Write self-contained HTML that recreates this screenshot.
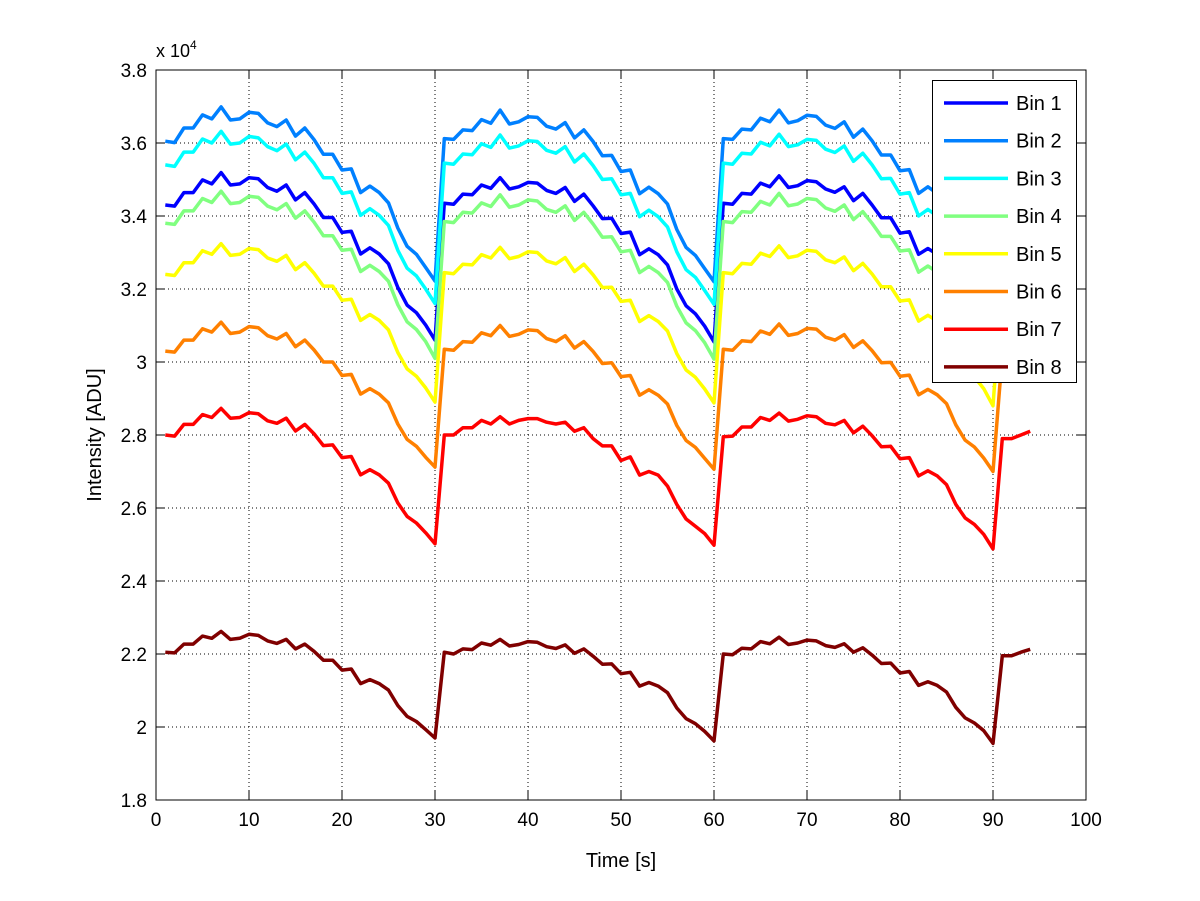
<!DOCTYPE html>
<html><head><meta charset="utf-8"><style>
html,body{margin:0;padding:0;background:#fff;}
svg{display:block;font-family:"Liberation Sans",sans-serif;}
</style></head><body>
<svg id="chart" width="1200" height="901" viewBox="0 0 1200 901"></svg>
<script>
const times = [];
for (let i = 1; i <= 94; i++) times.push(i);
const xTicks = [0,10,20,30,40,50,60,70,80,90,100];
const yTicks = [1.8,2,2.2,2.4,2.6,2.8,3,3.2,3.4,3.6,3.8];
const yTickLabels = ["1.8","2","2.2","2.4","2.6","2.8","3","3.2","3.4","3.6","3.8"];
const seriesNames = ["Bin 1","Bin 2","Bin 3","Bin 4","Bin 5","Bin 6","Bin 7","Bin 8"];
const seriesColors = ["#0000ff","#0080ff","#00ffff","#80ff80","#ffff00","#ff8000","#ff0000","#800000"];
const bin1 = [3.430,3.427,3.464,3.464,3.499,3.488,3.519,3.485,3.488,3.505,3.502,3.478,3.468,3.485,3.444,3.464,3.433,3.396,3.396,3.355,3.358,3.296,3.313,3.296,3.269,3.204,3.156,3.135,3.101,3.060,
3.435,3.432,3.460,3.458,3.485,3.476,3.505,3.474,3.480,3.492,3.490,3.470,3.462,3.478,3.440,3.460,3.428,3.393,3.394,3.352,3.356,3.294,3.310,3.294,3.266,3.200,3.154,3.132,3.098,3.055,
3.435,3.432,3.462,3.460,3.490,3.480,3.510,3.478,3.483,3.497,3.494,3.474,3.465,3.480,3.442,3.462,3.430,3.395,3.395,3.353,3.357,3.295,3.311,3.295,3.267,3.202,3.155,3.133,3.099,3.055,
3.420,3.420,3.430,3.440];
const bin2 = [3.605,3.601,3.641,3.641,3.677,3.666,3.699,3.663,3.666,3.684,3.681,3.655,3.645,3.663,3.619,3.641,3.609,3.569,3.569,3.526,3.529,3.464,3.482,3.464,3.436,3.367,3.317,3.295,3.259,3.222,
3.612,3.610,3.636,3.634,3.664,3.654,3.690,3.652,3.658,3.672,3.670,3.646,3.638,3.656,3.614,3.636,3.604,3.565,3.566,3.522,3.526,3.461,3.479,3.461,3.433,3.363,3.314,3.292,3.256,3.220,
3.612,3.610,3.638,3.636,3.668,3.658,3.690,3.655,3.661,3.676,3.673,3.649,3.640,3.658,3.616,3.638,3.606,3.567,3.567,3.524,3.527,3.462,3.480,3.462,3.434,3.365,3.315,3.293,3.257,3.220,
3.600,3.600,3.605,3.620];
const bin3 = [3.540,3.536,3.575,3.575,3.611,3.600,3.632,3.597,3.600,3.618,3.614,3.590,3.579,3.597,3.554,3.575,3.544,3.505,3.505,3.462,3.466,3.402,3.420,3.402,3.374,3.306,3.257,3.236,3.200,3.160,
3.545,3.542,3.570,3.568,3.598,3.588,3.622,3.586,3.592,3.606,3.604,3.580,3.572,3.590,3.548,3.570,3.538,3.500,3.502,3.458,3.462,3.398,3.416,3.398,3.370,3.302,3.253,3.232,3.196,3.158,
3.545,3.542,3.572,3.570,3.602,3.592,3.624,3.590,3.595,3.610,3.607,3.583,3.574,3.592,3.550,3.572,3.540,3.502,3.503,3.460,3.464,3.400,3.418,3.400,3.372,3.304,3.255,3.234,3.198,3.158,
3.530,3.530,3.540,3.550];
const bin4 = [3.380,3.377,3.414,3.414,3.448,3.437,3.468,3.434,3.437,3.454,3.451,3.427,3.417,3.434,3.394,3.414,3.383,3.346,3.346,3.306,3.309,3.248,3.265,3.248,3.221,3.157,3.110,3.089,3.056,3.010,
3.385,3.382,3.410,3.408,3.436,3.426,3.458,3.424,3.430,3.444,3.441,3.418,3.410,3.428,3.388,3.410,3.378,3.342,3.343,3.302,3.306,3.245,3.262,3.245,3.218,3.153,3.107,3.086,3.053,3.008,
3.385,3.382,3.412,3.410,3.440,3.430,3.462,3.428,3.433,3.448,3.445,3.422,3.413,3.430,3.390,3.412,3.380,3.344,3.344,3.304,3.307,3.246,3.263,3.246,3.219,3.155,3.108,3.087,3.054,3.008,
3.370,3.370,3.380,3.390];
const bin5 = [3.240,3.237,3.272,3.272,3.305,3.295,3.324,3.292,3.295,3.311,3.308,3.285,3.276,3.292,3.253,3.272,3.243,3.208,3.208,3.169,3.172,3.114,3.130,3.114,3.088,3.026,2.981,2.961,2.929,2.890,
3.245,3.242,3.268,3.266,3.294,3.285,3.314,3.283,3.289,3.302,3.300,3.277,3.269,3.286,3.248,3.268,3.239,3.204,3.205,3.166,3.169,3.111,3.127,3.111,3.085,3.023,2.978,2.958,2.926,2.888,
3.245,3.242,3.270,3.268,3.298,3.289,3.318,3.286,3.291,3.306,3.303,3.280,3.272,3.288,3.250,3.270,3.241,3.206,3.206,3.167,3.170,3.112,3.128,3.112,3.086,3.024,2.979,2.959,2.927,2.880,
3.230,3.230,3.240,3.250];
const bin6 = [3.030,3.027,3.060,3.060,3.091,3.082,3.109,3.078,3.082,3.097,3.094,3.072,3.063,3.078,3.042,3.060,3.033,3.000,3.000,2.963,2.966,2.912,2.927,2.912,2.888,2.830,2.788,2.769,2.739,2.712,
3.035,3.032,3.056,3.054,3.080,3.072,3.100,3.070,3.076,3.088,3.086,3.064,3.056,3.072,3.038,3.056,3.029,2.996,2.998,2.960,2.963,2.909,2.924,2.909,2.885,2.826,2.785,2.766,2.736,2.706,
3.035,3.032,3.058,3.056,3.085,3.076,3.104,3.073,3.078,3.092,3.090,3.068,3.060,3.075,3.040,3.058,3.031,2.998,2.999,2.961,2.964,2.910,2.925,2.910,2.886,2.828,2.786,2.767,2.737,2.700,
3.020,3.020,3.030,3.040];
const bin7 = [2.800,2.797,2.829,2.829,2.856,2.848,2.873,2.846,2.848,2.861,2.858,2.839,2.832,2.846,2.811,2.829,2.803,2.771,2.773,2.738,2.741,2.691,2.705,2.691,2.668,2.614,2.577,2.559,2.532,2.502,
2.800,2.800,2.820,2.820,2.840,2.830,2.850,2.830,2.840,2.845,2.845,2.835,2.830,2.835,2.810,2.820,2.790,2.770,2.770,2.730,2.740,2.690,2.700,2.690,2.660,2.610,2.570,2.550,2.530,2.498,
2.795,2.797,2.822,2.822,2.848,2.840,2.860,2.838,2.843,2.853,2.850,2.832,2.828,2.840,2.806,2.824,2.798,2.768,2.769,2.735,2.738,2.688,2.702,2.688,2.664,2.610,2.573,2.555,2.528,2.488,
2.790,2.790,2.800,2.810];
const bin8 = [2.205,2.203,2.227,2.227,2.249,2.243,2.262,2.240,2.243,2.254,2.251,2.236,2.229,2.240,2.214,2.227,2.207,2.183,2.183,2.156,2.159,2.119,2.130,2.119,2.101,2.059,2.029,2.015,1.993,1.970,
2.205,2.200,2.214,2.212,2.230,2.224,2.240,2.222,2.226,2.234,2.232,2.220,2.215,2.225,2.202,2.214,2.194,2.172,2.173,2.146,2.150,2.112,2.122,2.112,2.094,2.052,2.023,2.009,1.988,1.962,
2.200,2.198,2.216,2.214,2.234,2.228,2.246,2.226,2.230,2.238,2.236,2.223,2.218,2.228,2.205,2.217,2.197,2.174,2.175,2.148,2.152,2.114,2.124,2.114,2.096,2.054,2.025,2.011,1.990,1.955,
2.195,2.195,2.205,2.213];
const allSeries = [bin1,bin2,bin3,bin4,bin5,bin6,bin7,bin8];

const NS = "http://www.w3.org/2000/svg";
const svg = document.getElementById("chart");
const L = 156, R = 1086, T = 70, B = 800;
const xMin = 0, xMax = 100, yMin = 1.8, yMax = 3.8;
function xs(v){ return L + (v - xMin) / (xMax - xMin) * (R - L); }
function ys(v){ return B - (v - yMin) / (yMax - yMin) * (B - T); }
function el(tag, attrs, parent){
  const e = document.createElementNS(NS, tag);
  for (const k in attrs) e.setAttribute(k, attrs[k]);
  (parent || svg).appendChild(e);
  return e;
}

const grid = el("g", {});


xTicks.forEach(t => {
  if (t === xMin || t === xMax) return;
  const l = el("line", {x1: xs(t), x2: xs(t), y1: T, y2: B, stroke: "#000", "stroke-width": 1, "stroke-dasharray": "1,3"}, grid);
  
  
});
yTicks.forEach(t => {
  if (t === yMin || t === yMax) return;
  const l = el("line", {x1: L, x2: R, y1: ys(t), y2: ys(t), stroke: "#000", "stroke-width": 1, "stroke-dasharray": "1,3"}, grid);
  
  
});

const lines = el("g", {});


allSeries.forEach((s, i) => {
  const d = s.map((v, j) => (j ? "L" : "M") + xs(times[j]).toFixed(1) + "," + ys(v).toFixed(1)).join(" ");
  const p = el("path", {d: d, fill: "none", stroke: seriesColors[i], "stroke-width": 3.5, "stroke-linejoin": "round"}, lines);
  
  
});

const axes = el("g", {});


const frame = el("rect", {x: L, y: T, width: R - L, height: B - T, fill: "none", stroke: "#000", "stroke-width": 1}, axes);


xTicks.forEach(t => {
  el("line", {x1: xs(t), x2: xs(t), y1: B, y2: B - 9, stroke: "#000"}, axes);
  el("line", {x1: xs(t), x2: xs(t), y1: T, y2: T + 9, stroke: "#000"}, axes);
  const tx = el("text", {x: xs(t), y: B + 26, "font-size": 19, "text-anchor": "middle"}, axes);
  tx.textContent = String(t);
  
  
});
yTicks.forEach((t, i) => {
  el("line", {x1: L, x2: L + 9, y1: ys(t), y2: ys(t), stroke: "#000"}, axes);
  el("line", {x1: R, x2: R - 9, y1: ys(t), y2: ys(t), stroke: "#000"}, axes);
  const tx = el("text", {x: L - 9, y: ys(t) + 7, "font-size": 19, "text-anchor": "end"}, axes);
  tx.textContent = yTickLabels[i];
  
  
});
const mult = el("text", {x: L, y: 57, "font-size": 18}, axes);
mult.innerHTML = 'x 10<tspan dy="-8" font-size="12">4</tspan>';


const xt = el("text", {x: (L + R) / 2, y: 867, "font-size": 20, "text-anchor": "middle"}, axes);
xt.textContent = "Time [s]";


const yt = el("text", {x: 0, y: 0, "font-size": 20, "text-anchor": "middle", transform: "translate(101,435) rotate(-90)"}, axes);
yt.textContent = "Intensity [ADU]";



const legend = el("g", {});


el("rect", {x: 932.5, y: 80.5, width: 144, height: 302, fill: "#fff", stroke: "#000", "stroke-width": 1}, legend);
seriesNames.forEach((n, i) => {
  const y = 103 + i * 37.7;
  const g = el("g", {}, legend);
  
  
  el("line", {x1: 944, x2: 1008, y1: y, y2: y, stroke: seriesColors[i], "stroke-width": 3.5}, g);
  const tx = el("text", {x: 1016, y: y + 7, "font-size": 20}, g);
  tx.textContent = n;
});
</script>
</body></html>
